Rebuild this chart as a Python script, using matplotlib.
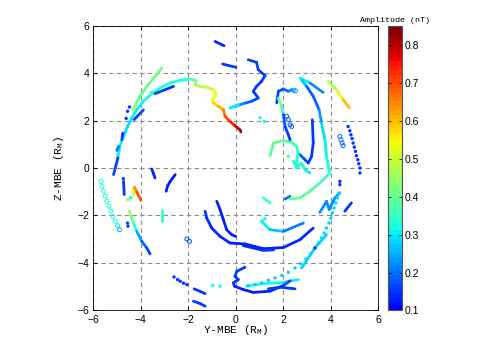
import numpy as np
import matplotlib
matplotlib.use("Agg")
import matplotlib.pyplot as plt
from matplotlib.collections import LineCollection
from matplotlib.colors import Normalize, ListedColormap

# ---- data: (Y-MBE, Z-MBE, amplitude nT) ----
# solid tracks
top_dash1 = [(-0.87, 5.33, 0.14), (-0.49, 5.15, 0.14)]
top_dash2 = [(-0.55, 4.38, 0.15), (0.01, 4.24, 0.15)]
green_arc = [(-3.12, 4.21, 0.42), (-3.40, 3.86, 0.41), (-3.75, 3.44, 0.4), (-4.03, 3.02, 0.39),
             (-4.24, 2.62, 0.4), (-4.34, 2.46, 0.46)]
outer_arc = [(-1.92, 3.75, 0.32), (-2.34, 3.69, 0.32), (-2.76, 3.58, 0.32), (-3.19, 3.37, 0.33),
             (-3.54, 3.13, 0.32), (-3.89, 2.81, 0.31), (-4.17, 2.46, 0.3), (-4.38, 2.11, 0.3),
             (-4.56, 1.75, 0.29), (-4.73, 1.33, 0.3), (-4.87, 0.98, 0.3), (-4.94, 0.56, 0.32)]
hot_track = [(-1.92, 3.75, 0.36), (-1.67, 3.68, 0.43), (-1.71, 3.51, 0.46), (-1.53, 3.44, 0.48),
             (-1.22, 3.40, 0.5), (-0.94, 3.30, 0.52), (-0.83, 3.13, 0.53), (-0.97, 2.88, 0.55),
             (-0.94, 2.74, 0.56), (-0.73, 2.60, 0.59), (-0.52, 2.46, 0.63), (-0.45, 2.18, 0.68),
             (-0.24, 1.96, 0.72), (-0.03, 1.78, 0.76), (0.18, 1.61, 0.8), (0.22, 1.52, 0.84)]
inner_blue1 = [(-2.62, 3.44, 0.15), (-3.05, 3.27, 0.15), (-3.40, 3.13, 0.17)]
inner_blue2 = [(-3.89, 2.45, 0.16), (-4.28, 2.04, 0.16)]
left_blue1 = [(-4.76, 1.47, 0.15), (-4.80, 1.19, 0.15)]
left_blue2 = [(-4.94, 0.91, 0.2), (-5.01, 0.74, 0.2)]
left_blue3 = [(-4.96, 0.45, 0.17), (-5.05, 0.10, 0.17), (-5.15, -0.28, 0.17)]
left_blue4 = [(-4.73, -0.56, 0.15), (-4.70, -1.12, 0.15)]
red_seg = [(-4.27, -0.80, 0.6), (-4.17, -1.01, 0.7), (-4.08, -1.19, 0.7), (-4.0, -1.36, 0.68)]
yellow_seg = [(-4.34, -0.88, 0.53), (-4.29, -1.12, 0.48)]
green_blue = [(-4.48, -1.82, 0.43), (-4.38, -2.11, 0.45), (-4.28, -2.39, 0.34), (-4.17, -2.67, 0.3),
              (-3.96, -3.09, 0.2), (-3.75, -3.37, 0.17), (-3.61, -3.62, 0.17)]
small_vert = [(-3.09, -1.75, 0.4), (-3.09, -2.0, 0.36), (-3.09, -2.25, 0.32)]
blue_a = [(-3.54, -0.04, 0.13), (-3.40, -0.42, 0.13)]
blue_b = [(-2.55, -0.28, 0.13), (-2.76, -0.56, 0.13), (-2.88, -0.77, 0.13), (-2.93, -0.98, 0.13)]
smile = [(-1.29, -1.82, 0.16), (-1.22, -2.11, 0.14), (-1.01, -2.53, 0.14), (-0.66, -2.88, 0.14),
         (-0.24, -3.16, 0.14), (0.39, -3.20, 0.13), (1.17, -3.40, 0.13), (2.01, -3.35, 0.14),
         (2.71, -3.02, 0.14), (3.27, -2.53, 0.15)]
smile2 = [(0.32, -3.27, 0.14), (1.17, -3.47, 0.14), (1.60, -3.45, 0.16)]
inner_curve = [(-0.80, -1.40, 0.14), (-0.66, -1.75, 0.14), (-0.52, -2.18, 0.13), (-0.38, -2.60, 0.13),
               (-0.17, -2.81, 0.13), (0.0, -2.88, 0.14)]
cyan_arc = [(1.25, -2.12, 0.32), (1.09, -2.25, 0.32), (1.45, -2.60, 0.3), (2.01, -2.67, 0.24),
            (2.85, -2.32, 0.19)]
squiggle = [(0.39, -4.18, 0.15), (0.05, -4.35, 0.15), (-0.03, -4.56, 0.15), (0.11, -4.70, 0.15),
            (-0.10, -4.84, 0.15), (-0.05, -4.98, 0.15), (0.32, -5.12, 0.13), (0.74, -5.24, 0.13),
            (1.45, -5.19, 0.13), (2.01, -4.95, 0.15), (2.30, -4.75, 0.17)]
bottom_arrow = [(1.38, -5.09, 0.15), (1.87, -5.02, 0.15), (2.50, -5.09, 0.15)]
bottom_cyan = [(0.46, -4.98, 0.32), (1.17, -4.87, 0.32), (1.87, -4.84, 0.31), (2.64, -4.70, 0.29)]
right_solid = [(2.78, -4.21, 0.28), (3.34, -3.37, 0.28), (3.83, -2.81, 0.28)]
w_shape = [(3.55, -1.87, 0.22), (3.83, -1.40, 0.22), (3.94, -1.75, 0.22), (4.18, -1.26, 0.23),
           (4.39, -1.05, 0.23)]
blue_short_r = [(4.60, -1.82, 0.15), (4.88, -1.47, 0.15)]
green_short = [(1.17, -1.26, 0.36), (1.45, -1.47, 0.35)]
blue_short2 = [(2.08, -1.31, 0.2), (2.29, -1.19, 0.2)]
right_top = [(2.71, 3.79, 0.33), (3.13, 3.58, 0.28), (3.69, 3.18, 0.17)]
right_light = [(2.78, 3.70, 0.33), (2.99, 3.44, 0.2), (3.27, 3.02, 0.17), (3.52, 2.45, 0.2),
               (3.62, 1.89, 0.28), (3.76, 1.19, 0.3), (3.83, 0.49, 0.31), (3.90, 0.07, 0.32),
               (3.97, -0.21, 0.34), (3.55, -0.63, 0.36), (3.13, -0.98, 0.38), (2.71, -1.26, 0.4),
               (2.29, -1.31, 0.4)]
blue_vert = [(3.23, 2.03, 0.15), (3.27, 1.05, 0.15), (3.20, 0.49, 0.15), (3.06, 0.21, 0.15),
             (2.85, 0.42, 0.17), (2.64, 0.63, 0.2)]
green_w = [(1.45, 0.52, 0.38), (1.59, 1.05, 0.4), (2.01, 1.16, 0.4), (2.36, 1.08, 0.38),
           (2.57, 0.91, 0.35), (2.64, 0.63, 0.33), (2.57, 0.28, 0.33), (2.60, 0.0, 0.32)]
cyan_wiggle = [(2.43, 0.28, 0.33), (2.57, 0.0, 0.32), (2.78, 0.21, 0.33), (2.92, -0.07, 0.32),
               (3.13, -0.21, 0.3)]
hook = [(1.73, 2.74, 0.17), (1.80, 3.23, 0.17), (2.01, 3.33, 0.17), (2.22, 3.23, 0.2),
        (2.36, 3.30, 0.23)]
hook_down = [(1.80, 2.95, 0.32), (1.94, 2.60, 0.5), (2.01, 2.25, 0.2), (2.08, 1.75, 0.15),
             (2.22, 1.40, 0.15), (2.29, 1.19, 0.15)]
orange_seg = [(3.90, 3.65, 0.43), (4.25, 3.30, 0.5), (4.53, 2.88, 0.56), (4.79, 2.53, 0.64)]
blue_wiggle = [(0.53, 4.56, 0.15), (0.88, 4.45, 0.17), (0.95, 4.14, 0.15), (1.24, 3.89, 0.17),
               (1.09, 3.65, 0.15), (0.88, 3.44, 0.15), (0.74, 3.23, 0.15), (0.95, 2.95, 0.15),
               (0.67, 2.81, 0.17), (0.32, 2.71, 0.2), (-0.03, 2.60, 0.24), (-0.24, 2.53, 0.3),
               (0.11, 2.67, 0.32)]
bl_dash = [(-1.75, -5.09, 0.15), (-1.29, -5.29, 0.15)]
bl_cluster = [(-1.78, -5.61, 0.15), (-1.50, -5.71, 0.15), (-1.29, -5.82, 0.15)]

solid_tracks = [top_dash1, top_dash2, outer_arc, green_arc, hot_track, inner_blue1, inner_blue2,
                left_blue1, left_blue2, left_blue3, left_blue4, yellow_seg, red_seg, green_blue,
                small_vert, blue_a, blue_b, smile, smile2, inner_curve, cyan_arc, bottom_cyan,
                squiggle, bottom_arrow, right_solid, w_shape, blue_short_r, green_short,
                blue_short2, right_top, right_light, blue_vert, green_w, cyan_wiggle,
                hook, hook_down, orange_seg, blue_wiggle, bl_dash, bl_cluster]

# dotted tracks (filled dots)
dots_right = [(4.74, 1.75, 0.15), (4.81, 1.57, 0.15), (4.86, 1.40, 0.15), (4.91, 1.24, 0.15),
              (4.95, 1.05, 0.15), (5.00, 0.88, 0.15), (5.05, 0.70, 0.15), (5.09, 0.52, 0.15),
              (5.15, 0.35, 0.15), (5.19, 0.18, 0.15), (5.24, 0.0, 0.15), (5.24, -0.21, 0.15)]
dots_arc = [(0.53, -4.95, 0.28), (0.81, -4.91, 0.28), (1.09, -4.84, 0.28), (1.38, -4.73, 0.28),
            (1.66, -4.63, 0.28), (1.94, -4.52, 0.28), (2.22, -4.39, 0.28), (2.50, -4.21, 0.28),
            (2.74, -4.03, 0.28), (2.96, -3.83, 0.28), (3.16, -3.62, 0.28), (3.34, -3.37, 0.15),
            (3.48, -3.16, 0.28), (3.62, -2.95, 0.28), (3.73, -2.74, 0.28), (3.83, -2.53, 0.28),
            (3.93, -2.32, 0.28), (4.01, -2.11, 0.28), (4.08, -1.89, 0.28), (4.15, -1.68, 0.28),
            (4.22, -1.47, 0.28), (4.29, -1.26, 0.28), (4.36, -1.05, 0.28)]
dots_misc = [(-4.48, 2.57, 0.15), (-4.56, 2.39, 0.15), (-4.62, 2.09, 0.15), (-3.56, 3.20, 0.4),
             (-0.97, -4.95, 0.32), (-0.66, -4.98, 0.32), (1.02, 2.13, 0.32), (1.21, 1.96, 0.32),
             (2.22, 0.49, 0.4), (4.39, -0.56, 0.15), (4.39, -0.70, 0.15), (-2.60, -4.59, 0.15),
             (-2.45, -4.70, 0.15), (-2.34, -4.77, 0.15), (-2.20, -4.85, 0.15), (-2.06, -4.91, 0.15),
             (-4.56, -2.32, 0.17), (-4.54, -2.45, 0.17), (-4.43, -1.25, 0.32), (-4.55, -1.33, 0.46),
             (-4.98, 0.56, 0.32), (-4.74, -0.45, 0.17)]

# open-circle tracks
circ_left = [(-5.68, -0.56, 0.32), (-5.64, -0.77, 0.32), (-5.57, -0.98, 0.32), (-5.50, -1.19, 0.32),
             (-5.43, -1.40, 0.32), (-5.35, -1.61, 0.32), (-5.26, -1.82, 0.32), (-5.18, -2.04, 0.32),
             (-5.08, -2.25, 0.32), (-4.98, -2.43, 0.31), (-4.90, -2.60, 0.25)]
circ_right = [(4.39, 1.33, 0.2), (4.44, 1.19, 0.2), (4.49, 1.05, 0.2), (4.53, 0.94, 0.2)]
circ_hook = [(2.15, 2.18, 0.18), (2.22, 2.04, 0.18), (2.29, 1.82, 0.18), (2.36, 1.75, 0.18),
             (2.43, 3.28, 0.22), (2.52, 3.25, 0.22)]
circ_small = [(-2.06, -2.99, 0.17), (-1.95, -3.09, 0.17)]

amp_ticks = [0.1, 0.2, 0.3, 0.4, 0.5, 0.6, 0.7, 0.8]
axis_ticks = [-6, -4, -2, 0, 2, 4, 6]

# ---- figure ----
# jet without its dark-blue end, 64 steps
cmap = ListedColormap(plt.get_cmap("jet")(np.linspace(0.125, 1.0, 64)))
norm = Normalize(vmin=0.1, vmax=0.85)

fig = plt.figure(figsize=(4.89, 3.5), dpi=100)
ax = fig.add_axes([0.191, 0.113, 0.582, 0.814])
cax = fig.add_axes([0.794, 0.113, 0.028, 0.813])

for xt in axis_ticks:
    ax.axvline(xt, color="#8c8c8c", lw=0.8, ls=(0, (4, 3)), zorder=0)
    ax.axhline(xt, color="#8c8c8c", lw=0.8, ls=(0, (4, 3)), zorder=0)

for tr in solid_tracks:
    a = np.array(tr)
    pts = a[:, :2].reshape(-1, 1, 2)
    segs = np.concatenate([pts[:-1], pts[1:]], axis=1)
    amps = (a[:-1, 2] + a[1:, 2]) / 2
    lc = LineCollection(segs, cmap=cmap, norm=norm, linewidths=2.0, capstyle="round",
                        joinstyle="round", zorder=2)
    lc.set_array(amps)
    ax.add_collection(lc)

for tr in [dots_right, dots_arc, dots_misc]:
    a = np.array(tr)
    ax.scatter(a[:, 0], a[:, 1], c=a[:, 2], cmap=cmap, norm=norm, s=6, edgecolors="none", zorder=3)

for tr in [circ_left, circ_right, circ_hook, circ_small]:
    a = np.array(tr)
    ax.scatter(a[:, 0], a[:, 1], facecolors="none", edgecolors=cmap(norm(a[:, 2])), s=8,
               linewidths=0.7, zorder=3)

ax.set_xlim(-6, 6)
ax.set_ylim(-6, 6)
ax.set_xticks(axis_ticks)
ax.set_yticks(axis_ticks)
ax.set_xticklabels(["\u22126", "\u22124", "\u22122", "0", "2", "4", "6"])
ax.set_yticklabels(["\u22126", "\u22124", "\u22122", "0", "2", "4", "6"])
ax.tick_params(direction="in", length=3, width=0.6, top=True, right=True, labelsize=7.5, pad=3)
for lab in ax.get_xticklabels() + ax.get_yticklabels():
    lab.set_fontfamily("Liberation Sans")
for s in ax.spines.values():
    s.set_linewidth(0.6)

ax.set_xlabel("Y-MBE (R$_\\mathregular{M}$)", fontfamily="Liberation Mono", fontsize=8, labelpad=-1)
ax.set_ylabel("Z-MBE (R$_\\mathregular{M}$)", fontfamily="Liberation Mono", fontsize=8, labelpad=8)

sm = plt.cm.ScalarMappable(cmap=cmap, norm=norm)
cb = fig.colorbar(sm, cax=cax, ticks=amp_ticks)
cb.outline.set_edgecolor("#555555")
cb.outline.set_linewidth(0.8)
cax.tick_params(direction="in", length=2, width=0.5, left=True, right=True, labelsize=7.5, pad=2)
cax.set_yticklabels([str(v) for v in amp_ticks])
for lab in cax.get_yticklabels():
    lab.set_fontfamily("Liberation Sans")
cax.set_title("Amplitude (nT)", fontfamily="Liberation Mono", fontsize=6, pad=3, loc="center")

fig.savefig("out.png", dpi=100)
